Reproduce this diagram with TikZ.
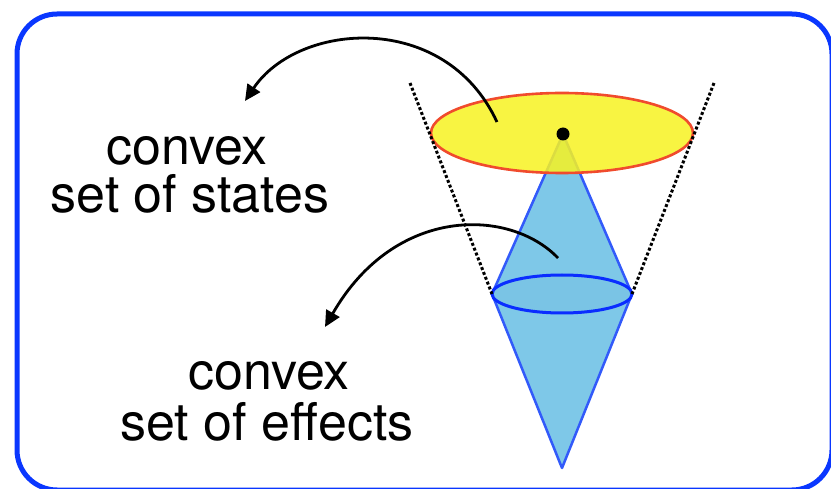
\documentclass[tikz,border=0pt]{standalone}
\usepackage{fontspec}
\setmainfont{TeX Gyre Heros}
\usetikzlibrary{arrows.meta}
\definecolor{frameblue}{RGB}{10,55,255}
\definecolor{stateyellow}{RGB}{247,242,35}
\definecolor{statered}{RGB}{240,75,45}
\definecolor{conefill}{RGB}{126,200,232}
\definecolor{effinner}{RGB}{122,196,229}
\definecolor{conestroke}{RGB}{50,90,250}
\definecolor{effblue}{RGB}{10,45,255}
\tikzset{
  lbl/.style={font=\fontsize{52}{60}\selectfont, anchor=base, inner sep=0pt},
  curvearrow/.style={line width=2.8pt, -{Triangle[length=16pt,width=15pt]}},
  bound/.style={dash pattern=on 3pt off 2.2pt, line width=3pt},
}
\begin{document}
\begin{tikzpicture}[x=1pt,y=-1pt]
\useasboundingbox (0,0) rectangle (831,489);
% frame
\draw[frameblue, line width=5pt, rounded corners=40pt] (17,14) rectangle (832,490);
% named points
\coordinate (dot) at (563,134);
\coordinate (effL) at (492,294);
\coordinate (effR) at (632,294);
\coordinate (apex) at (562,468);
\coordinate (bndLtop) at (410,83);
\coordinate (bndRtop) at (714,83);
% upper cone
\draw[conestroke, line width=2.5pt, fill=conefill, line join=round] (dot) -- (effL) -- (effR) -- cycle;
% states ellipse
\node[draw=none, inner sep=0pt] (statescentre) at (562,133) {};
\fill[stateyellow, fill opacity=0.86] (statescentre) ellipse [x radius=131pt, y radius=40pt];
\draw[statered, line width=2.6pt] (statescentre) ellipse [x radius=131pt, y radius=40pt];
\fill[black] (dot) circle (6.5pt);
% lower cone
\draw[conestroke, line width=2.5pt, fill=conefill, line join=round] (effL) -- (apex) -- (effR) -- cycle;
% effects ellipse
\node[draw=none, inner sep=0pt] (effcentre) at (562,294) {};
\draw[effblue, line width=3pt, fill=effinner] (effcentre) ellipse [x radius=70pt, y radius=19pt];
% dotted bounds
\draw[bound] (bndLtop) -- (effL);
\draw[bound] (bndRtop) -- (effR);
% labels
\node[lbl] (statesA) at (187,165) {convex};
\node[lbl] (statesB) at (190,213) {set of states};
\node[lbl] (effA) at (269,390) {convex};
\node[lbl] (effB) at (267,440) {set of effects};
% arrows
\coordinate (a1s) at (497,122);
\coordinate (a1e) at (245,101);
\coordinate (a2s) at (558,258);
\coordinate (a2e) at (325,327);
\draw[curvearrow] (a1s) .. controls (445,10) and (298,22) .. (a1e);
\draw[curvearrow] (a2s) .. controls (510,208) and (395,205) .. (a2e);
\end{tikzpicture}
\end{document}
